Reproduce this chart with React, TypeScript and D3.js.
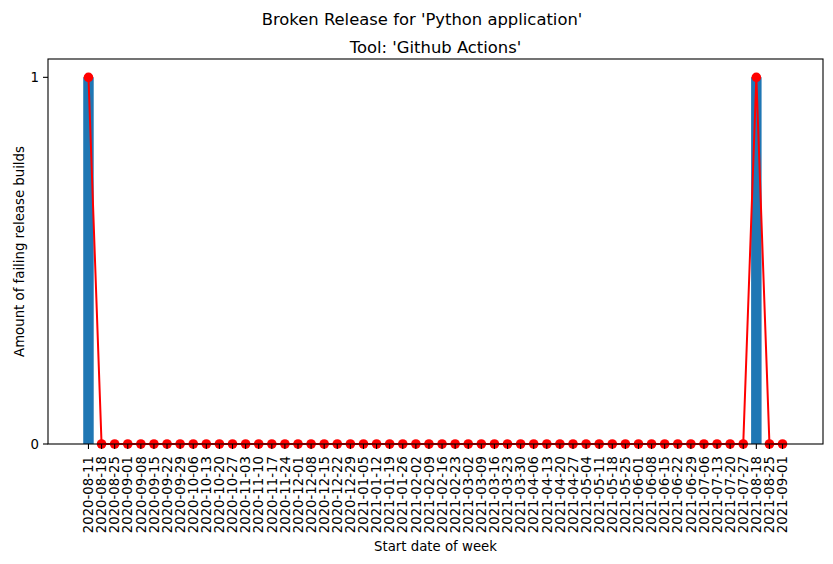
import { useEffect, useRef } from 'react'
import * as d3 from 'd3'

// week start dates (x categories)
const weeks = [
  '2020-08-11', '2020-08-18', '2020-08-25', '2020-09-01', '2020-09-08', '2020-09-15',
  '2020-09-22', '2020-09-29', '2020-10-06', '2020-10-13', '2020-10-20', '2020-10-27',
  '2020-11-03', '2020-11-10', '2020-11-17', '2020-11-24', '2020-12-01', '2020-12-08',
  '2020-12-15', '2020-12-22', '2020-12-29', '2021-01-05', '2021-01-12', '2021-01-19',
  '2021-01-26', '2021-02-02', '2021-02-09', '2021-02-16', '2021-02-23', '2021-03-02',
  '2021-03-09', '2021-03-16', '2021-03-23', '2021-03-30', '2021-04-06', '2021-04-13',
  '2021-04-20', '2021-04-27', '2021-05-04', '2021-05-11', '2021-05-18', '2021-05-25',
  '2021-06-01', '2021-06-08', '2021-06-15', '2021-06-22', '2021-06-29', '2021-07-06',
  '2021-07-13', '2021-07-20', '2021-07-27', '2021-08-18', '2021-08-25', '2021-09-01',
]

// failing release builds per week
const failing = weeks.map(w => (w === '2020-08-11' || w === '2021-08-18' ? 1 : 0))

const yTicks = [0, 1]

const W = 833, H = 564
const FONT = 'DejaVu Sans, sans-serif'

export default function App() {
  const ref = useRef<SVGSVGElement>(null)

  useEffect(() => {
    const svg = d3.select(ref.current!)
    svg.selectAll('*').remove()

    const m = { l: 48, r: 823, t: 59, b: 444 }
    const n = weeks.length
    const pad = (n - 1 + 0.8) * 0.05
    const x = d3.scaleLinear().domain([-0.4 - pad, n - 1 + 0.4 + pad]).range([m.l, m.r])
    const y = d3.scaleLinear().domain([0, 1.05]).range([m.b, m.t])
    const bw = x(0.8) - x(0)

    svg.append('rect').attr('x', 0).attr('y', 0).attr('width', W).attr('height', H).attr('fill', '#fff')

    // bars
    svg.append('g').selectAll('rect').data(failing).join('rect')
      .attr('x', (_, i) => x(i) - bw / 2).attr('width', bw)
      .attr('y', d => y(d)).attr('height', d => y(0) - y(d))
      .attr('fill', '#1f77b4')

    // line + markers
    const line = d3.line<number>().x((_, i) => x(i)).y(d => y(d))
    svg.append('path').datum(failing).attr('d', line).attr('fill', 'none')
      .attr('stroke', 'red').attr('stroke-width', 2)
    svg.append('g').selectAll('circle').data(failing).join('circle')
      .attr('cx', (_, i) => x(i)).attr('cy', d => y(d)).attr('r', 4.8).attr('fill', 'red')

    // frame
    svg.append('rect').attr('x', m.l).attr('y', m.t).attr('width', m.r - m.l).attr('height', m.b - m.t)
      .attr('fill', 'none').attr('stroke', '#000').attr('stroke-width', 1.1)

    // x ticks
    const xg = svg.append('g')
    weeks.forEach((w, i) => {
      xg.append('line').attr('x1', x(i)).attr('x2', x(i)).attr('y1', m.b).attr('y2', m.b + 5)
        .attr('stroke', '#000').attr('stroke-width', 1.1)
      xg.append('text').attr('transform', `translate(${x(i) + 4.7},${m.b + 12}) rotate(-90)`)
        .attr('text-anchor', 'end').attr('font-family', FONT).attr('font-size', 13.3).attr('fill', '#000')
        .text(w)
    })

    // y ticks
    const yg = svg.append('g')
    yTicks.forEach(t => {
      yg.append('line').attr('x1', m.l - 5).attr('x2', m.l).attr('y1', y(t)).attr('y2', y(t))
        .attr('stroke', '#000').attr('stroke-width', 1.1)
      yg.append('text').attr('x', m.l - 9).attr('y', y(t) + 4.8).attr('text-anchor', 'end')
        .attr('font-family', FONT).attr('font-size', 13.3).attr('fill', '#000').text(String(t))
    })

    // labels
    svg.append('text').attr('transform', `translate(${20 + 4},${(m.t + m.b) / 2}) rotate(-90)`)
      .attr('text-anchor', 'middle').attr('font-family', FONT).attr('font-size', 13.3).text('Amount of failing release builds')
    svg.append('text').attr('x', (m.l + m.r) / 2).attr('y', 551).attr('text-anchor', 'middle')
      .attr('font-family', FONT).attr('font-size', 13.3).text('Start date of week')
    svg.append('text').attr('x', (m.l + m.r) / 2).attr('y', 53).attr('text-anchor', 'middle')
      .attr('font-family', FONT).attr('font-size', 16.4).text("Tool: 'Github Actions'")
    svg.append('text').attr('x', 422).attr('y', 25).attr('text-anchor', 'middle')
      .attr('font-family', FONT).attr('font-size', 16.4).text("Broken Release for 'Python application'")
  }, [])

  return <svg ref={ref} width={W} height={H} style={{ position: 'absolute', left: 0, top: 0 }} />
}
